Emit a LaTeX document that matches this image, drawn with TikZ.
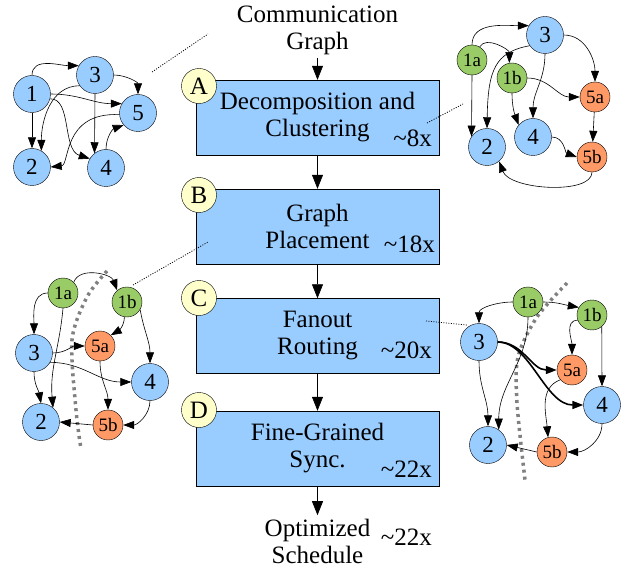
\documentclass[tikz,border=0pt]{standalone}
\usepackage{fontspec}
\setmainfont{Liberation Serif}
\usetikzlibrary{arrows.meta}

\definecolor{boxblue}{HTML}{99CCFF}
\definecolor{nodegreen}{HTML}{99CC66}
\definecolor{nodeorange}{HTML}{FF9966}
\definecolor{tagyellow}{HTML}{FFFFCC}

\tikzset{
	stage/.style={draw=black, fill=boxblue, minimum width=243pt, minimum height=75pt, align=center, font=\fontsize{25}{27}\selectfont},
	flowtext/.style={align=center, font=\fontsize{25}{27}\selectfont},
	speed/.style={anchor=base east, inner sep=0pt, font=\fontsize{25}{27}\selectfont},
	tag/.style={circle, draw=black, fill=tagyellow, minimum size=35pt, inner sep=0pt, font=\fontsize{25}{25}\selectfont},
	big/.style={circle, draw=black, fill=boxblue, minimum size=37pt, inner sep=0pt, font=\fontsize{23}{23}\selectfont},
	small/.style={circle, draw=black, minimum size=30pt, inner sep=0pt, font=\fontsize{19}{19}\selectfont},
	half1/.style={small, fill=nodegreen},
	half5/.style={small, fill=nodeorange},
	link/.style={-{Triangle[length=11pt,width=8pt]}, line width=0.6pt},
	hot/.style={link, line width=1.6pt},
	flow/.style={-{Triangle[length=14pt,width=11pt]}, line width=0.7pt},
	cut/.style={draw=gray, line width=3.5pt, dash pattern=on 3pt off 4pt},
	leader/.style={line width=0.8pt, dash pattern=on 1pt off 1.5pt}
}

\begin{document}
\begin{tikzpicture}[x=1pt, y=-1pt]
	\useasboundingbox (0,0) rectangle (622,567);
	\def\bx{317.5}
	% flow in the middle
	\node[flowtext] (src) at (\bx, 30) {Communication\\Graph};
	\node[stage] (sA) at (\bx, 117.5) {Decomposition and\\Clustering};
	\node[stage] (sB) at (\bx, 226.5) {Graph\\Placement};
	\node[stage] (sC) at (\bx, 336) {Fanout\\Routing};
	\node[stage] (sD) at (\bx, 448.5) {Fine-Grained\\Sync.};
	\node[flowtext] (dst) at (\bx, 541) {Optimized\\Schedule};
	\node[speed] (spA) at (432, 147) {\textasciitilde8x};
	\node[speed] (spB) at (435, 253) {\textasciitilde18x};
	\node[speed] (spC) at (432, 358) {\textasciitilde20x};
	\node[speed] (spD) at (432, 477) {\textasciitilde22x};
	\node[speed] (spE) at (432, 545) {\textasciitilde22x};
	\node[tag] (tA) at (199, 86) {A};
	\node[tag] (tB) at (199, 195) {B};
	\node[tag] (tC) at (199, 298) {C};
	\node[tag] (tD) at (199, 410) {D};
	\draw[flow] (src) -- (sA);
	\draw[flow] (sA) -- (sB);
	\draw[flow] (sB) -- (sC);
	\draw[flow] (sC) -- (sD);
	\draw[flow] (sD) -- (dst);

	% communication graph
	\node[big] (c1) at (32, 94) {1};
	\node[big] (c2) at (32, 167) {2};
	\node[big] (c3) at (95, 75) {3};
	\node[big] (c4) at (106, 168) {4};
	\node[big] (c5) at (138, 113) {5};
	\draw[link] (c1.north) to[out=90, in=180] (c3.150);
	\draw[link] (c1) -- (c2);
	\draw[link] (c1.east) to[out=0, in=180] (c5.150);
	\draw[link] (c1.-15) .. controls (72,98) and (62,150) .. (c4.150);
	\draw[link] (c3.215) to[out=180, in=90] (c2.60);
	\draw[link] (c3.south) -- (c4.128);
	\draw[link] (c3.east) to[out=0, in=90] (c5.north);
	\draw[link] (c5.185) .. controls (62,112) and (70,165) .. (c2.east);
	\draw[link] (c4.north) to[out=90, in=200] (c5.220);

	% after decomposition
	\node[big] (d3) at (545, 35) {3};
	\node[half1] (d1a) at (472, 60) {1a};
	\node[half1] (d1b) at (512, 78) {1b};
	\node[half5] (d5a) at (595, 97) {5a};
	\node[half5] (d5b) at (592, 157) {5b};
	\node[big] (d2) at (487, 147) {2};
	\node[big] (d4) at (533, 137) {4};
	\draw[link] (d1a.north) to[out=90, in=180] (d3.150);
	\draw[link] (d1a.60) to[out=60, in=90] (d1b.100);
	\draw[link] (d1a.south) -- (d2.146);
	\draw[link] (d3.215) .. controls (495,52) and (488,70) .. (d2.north);
	\draw[link] (d3.south) to[out=-90, in=90] (d4.north);
	\draw[link] (d3.east) to[out=0, in=90] (d5a.north);
	\draw[link] (d1b.south) to[out=-90, in=110] (d4.140);
	\draw[link] (d1b.east) to[out=0, in=180] (d5a.west);
	\draw[link] (d5a) -- (d5b);
	\draw[link] (d4.east) to[out=0, in=160] (d5b.west);
	\draw[link] (d5b.south) .. controls (592,195) and (510,190) .. (d2.-50);

	% after placement
	\draw[cut] plot[smooth] coordinates {(107,271) (87,297) (72,340) (76,410) (81,449)};
	\node[half1] (p1a) at (63, 293) {1a};
	\node[half1] (p1b) at (127, 302) {1b};
	\node[big] (p3) at (34, 353) {3};
	\node[half5] (p5a) at (100, 346) {5a};
	\node[big] (p4) at (150, 382) {4};
	\node[big] (p2) at (41, 422) {2};
	\node[half5] (p5b) at (108, 425) {5b};
	\draw[link] (p1a.west) to[out=180, in=90] (p3.north);
	\draw[link] (p1a.south) to[out=-95, in=95] (p2.50);
	\draw[link] (p1a.45) to[out=70, in=110] (p1b.130);
	\draw[link] (p1b.-100) to[out=-90, in=30] (p5a.45);
	\draw[link] (p1b.-30) to[out=-80, in=90] (p4.north);
	\draw[link] (p3.east) to[out=0, in=180] (p5a.west);
	\draw[link] (p3.-30) to[out=0, in=180] (p4.west);
	\draw[link] (p3.south) to[out=-90, in=100] (p2.north);
	\draw[link] (p5a.south) to[out=-90, in=90] (p5b.north);
	\draw[link] (p4.south) to[out=-90, in=0] (p5b.east);
	\draw[link] (p5b.west) -- (p2.east);

	% after fanout routing
	\draw[cut] plot[smooth] coordinates {(567,283) (537,317) (518,357) (517,403) (525,480)};
	\node[half1] (r1a) at (528, 302) {1a};
	\node[half1] (r1b) at (592, 315) {1b};
	\node[big] (r3) at (479, 342) {3};
	\node[half5] (r5a) at (572, 370) {5a};
	\node[big] (r4) at (602, 405) {4};
	\node[big] (r2) at (488, 445) {2};
	\node[half5] (r5b) at (552, 452) {5b};
	\draw[link] (r1a.west) to[out=180, in=90] (r3.north);
	\draw[link] (r1a.east) to[out=0, in=170] (r1b.150);
	\draw[link] (r1a.south) to[out=-90, in=90] (r2.55);
	\draw[link] (r1b.200) to[out=180, in=90] (r5a.north);
	\draw[link] (r1b.-50) -- (r4.north);
	\draw[hot] (r3.east) to[out=0, in=180] (r5a.west);
	\draw[hot] (r3.east) .. controls (530,342) and (545,405) .. (r4.west);
	\draw[link] (r3.south) to[out=-90, in=90] (r2.north);
	\draw[link] (r5a.220) to[out=200, in=95] (r5b.105);
	\draw[link] (r4.south) to[out=-90, in=0] (r5b.east);
	\draw[link] (r5b.west) -- (r2.east);

	% leaders from the graphs to their stages
	\coordinate (lc1) at (152, 72);
	\coordinate (lc2) at (208, 34);
	\coordinate (ld1) at (427, 123);
	\coordinate (ld2) at (463, 104);
	\coordinate (lp1) at (133, 285);
	\coordinate (lp2) at (208, 242);
	\coordinate (lr1) at (426, 321);
	\coordinate (lr2) at (467, 325);
	\draw[leader] (lc1) -- (lc2);
	\draw[leader] (ld1) -- (ld2);
	\draw[leader] (lp1) -- (lp2);
	\draw[leader] (lr1) -- (lr2);
\end{tikzpicture}
\end{document}
